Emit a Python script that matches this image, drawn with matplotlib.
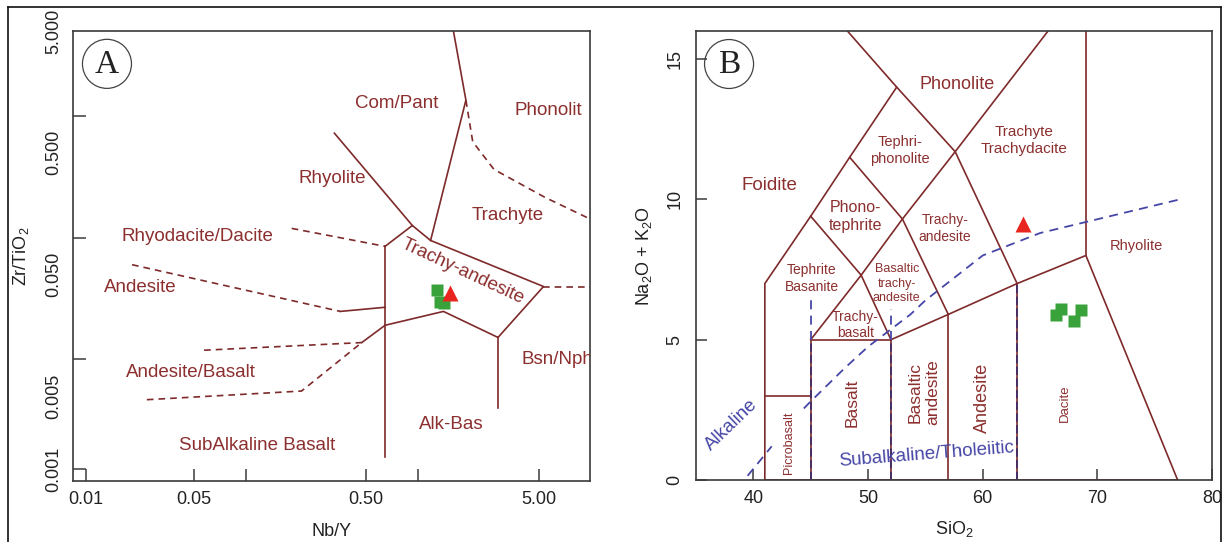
import matplotlib
matplotlib.use("Agg")
import matplotlib.pyplot as plt
from matplotlib.patches import Ellipse
from matplotlib.lines import Line2D

plt.rcParams['font.family'] = ['Liberation Sans', 'DejaVu Sans']
plt.rcParams['mathtext.default'] = 'regular'

LINE = '#7e2a2a'
TEXT = '#8c2f2f'
BLUE = '#4646a6'
NAVY = '#3b2a6a'
FRAME = '#3a3a3a'

# ---- (A) Zr/TiO2 vs Nb/Y (Winchester & Floyd) ----
a_solid = [
    [(1.60, 5.0), (1.89, 1.35), (1.18, 0.0949)],
    [(0.327, 0.723), (0.925, 0.126)],
    [(0.643, 0.0849), (0.925, 0.126), (1.18, 0.0949), (5.32, 0.0397),
     (2.90, 0.01514), (1.40, 0.02478), (0.643, 0.01906)],
    [(0.643, 0.0849), (0.643, 0.00158)],
    [(0.354, 0.02478), (0.643, 0.0268)],
    [(0.643, 0.01906), (0.471, 0.01374)],
    [(2.90, 0.01514), (2.90, 0.00395)],
]
a_dashed = [
    [(1.89, 1.35), (2.07, 0.614), (2.75, 0.364), (5.41, 0.215), (10.1, 0.1406)],
    [(5.32, 0.0397), (10.1, 0.0397)],
    [(0.185, 0.1193), (0.643, 0.0849)],
    [(0.022, 0.060), (0.354, 0.02478)],
    [(0.0575, 0.01189), (0.471, 0.01374)],
    [(0.0268, 0.00466), (0.211, 0.00549), (0.471, 0.01374)],
]
a_labels = [
    ("Com/Pant", 0.752, 1.26, 'center', 0),
    ("Phonolit", 3.62, 1.12, 'left', 0),
    ("Rhyolite", 0.316, 0.309, 'center', 0),
    ("Trachyte", 3.30, 0.153, 'center', 0),
    ("Rhyodacite/Dacite", 0.0524, 0.1014, 'center', 0),
    ("Trachy-andesite", 1.82, 0.0526, 'center', -25),
    ("Andesite", 0.0244, 0.0392, 'center', 0),
    ("Bsn/Nph", 3.96, 0.00991, 'left', 0),
    ("Andesite/Basalt", 0.048, 0.00787, 'center', 0),
    ("Alk-Bas", 1.556, 0.00294, 'center', 0),
    ("SubAlkaline Basalt", 0.116, 0.00195, 'center', 0),
]
a_sq_x = [1.285, 1.33, 1.42]
a_sq_y = [0.0372, 0.0298, 0.0292]
a_tri_x = [1.53]
a_tri_y = [0.0349]

# ---- (B) TAS diagram ----
b_lines = [
    [(41, 0), (41, 7), (45, 9.4), (48.4, 11.5), (52.5, 14), (48.2, 16)],
    [(41, 3), (45, 3)],
    [(45, 0), (45, 5), (52, 5)],
    [(52, 0), (52, 5), (57, 5.9), (63, 7), (69, 8), (77, 0)],
    [(57, 0), (57, 5.9)],
    [(63, 0), (63, 7)],
    [(69, 8), (69, 16)],
    [(45, 5), (49.4, 7.3), (53, 9.3), (57.6, 11.7), (65.7, 16)],
    [(45, 9.4), (49.4, 7.3), (52, 5)],
    [(48.4, 11.5), (53, 9.3), (57, 5.9)],
    [(52.5, 14), (57.6, 11.7), (63, 7)],
    [(41, 0), (77, 0)],
]
b_navy = [
    [(45, 0), (45, 5)],
    [(52, 0), (52, 5)],
    [(63, 0), (63, 7)],
]
b_blue_dashed = [
    [(39.5, 0.15), (40, 0.4), (41.6, 1.2)],
    [(44.4, 2.55), (45, 2.8), (48, 4.0), (50, 4.75), (53.7, 5.9), (55, 6.4),
     (60, 8.0), (65, 8.8), (77.2, 10.0)],
    [(45, 5), (45, 6.4)],
    [(52, 5), (52, 6.1)],
]
b_labels = [
    ("Phonolite", 57.8, 14.08, 13, 0),
    ("Tephri-\nphonolite", 52.8, 11.74, 10.5, 0),
    ("Trachyte\nTrachydacite", 63.6, 12.1, 11, 0),
    ("Foidite", 41.4, 10.5, 13.5, 0),
    ("Phono-\ntephrite", 48.9, 9.4, 11.5, 0),
    ("Trachy-\nandesite", 56.7, 8.97, 10, 0),
    ("Rhyolite", 73.4, 8.33, 10.5, 0),
    ("Tephrite\nBasanite", 45.1, 7.18, 10, 0),
    ("Basaltic\ntrachy-\nandesite", 52.5, 7.0, 9, 0),
    ("Trachy-\nbasalt", 48.9, 5.52, 10, 0),
    ("Basalt", 48.6, 2.75, 12.5, 90),
    ("Basaltic\nandesite", 54.9, 3.12, 12.5, 90),
    ("Andesite", 60.0, 2.93, 13, 90),
    ("Dacite", 67.2, 2.75, 9.5, 90),
    ("Picrobasalt", 43.1, 1.33, 9, 90),
]
b_sq_x = [66.8, 66.4, 68.6, 68.0]
b_sq_y = [6.09, 5.88, 6.06, 5.66]
b_tri_x = [63.5]
b_tri_y = [9.11]

fig = plt.figure(figsize=(12.28, 5.42), dpi=100)
ax1 = fig.add_axes([0.0594, 0.1125, 0.4211, 0.8303])
ax2 = fig.add_axes([0.5668, 0.1144, 0.4202, 0.8284])

for ax in (ax1, ax2):
    for sp in ax.spines.values():
        sp.set_color(FRAME)
        sp.set_linewidth(1.2)
    ax.tick_params(which='both', direction='in', colors=FRAME, labelcolor='#222222',
                   labelsize=13, width=1.1)

# panel A
ax1.set_xscale('log')
ax1.set_yscale('log')
ax1.set_xlim(0.01, 9.9)
ax1.set_ylim(0.001, 5)
for seg in a_solid:
    xs, ys = zip(*seg)
    ax1.plot(xs, ys, color=LINE, lw=1.2)
for seg in a_dashed:
    xs, ys = zip(*seg)
    ax1.plot(xs, ys, color=LINE, lw=1.2, ls=(0, (4, 3)))
for txt, x, y, ha, rot in a_labels:
    ax1.text(x, y, txt, color=TEXT, fontsize=13.5, ha=ha, va='center',
             rotation=rot, rotation_mode='anchor', clip_on=True)
ax1.plot(a_sq_x, a_sq_y, 's', color='#3aa23a', ms=8.5, mec='none')
ax1.plot(a_tri_x, a_tri_y, '^', color='#e8251e', ms=11, mec='none')

ax1.set_xticks([0.0119, 0.05, 0.1, 0.5, 1, 5],
               labels=['0.01', '0.05', '', '0.50', '', '5.00'])
ax1.set_xticks([], minor=True)
ax1.set_yticks([0.00125, 0.01, 0.1, 1], labels=['0.001', '', '', ''])
ax1.set_yticks([0.005, 0.05, 0.5, 5], labels=['0.005', '0.050', '0.500', '5.000'],
               minor=True)
ax1.tick_params(axis='both', which='major', length=9)
ax1.tick_params(axis='y', which='minor', length=0)
ax1.tick_params(axis='x', pad=7)
ax1.tick_params(axis='y', which='both', labelrotation=90, pad=8, labelsize=13)
for lab in ax1.get_yticklabels(which='both'):
    lab.set_va('center')
ax1.set_xlabel('Nb/Y', fontsize=13, labelpad=11, color='#222222')
ax1.set_ylabel('Zr/TiO$_2$', fontsize=13, labelpad=10, color='#222222')

ax1.add_patch(Ellipse((0.0658, 0.927), 0.0948, 0.109, transform=ax1.transAxes,
                      fill=False, ec='#444444', lw=0.9))
ax1.text(0.0658, 0.925, 'A', transform=ax1.transAxes, ha='center', va='center',
         fontsize=24, family='Liberation Serif', color='#222222')

# panel B
ax2.set_xlim(35, 80)
ax2.set_ylim(0, 16)
for seg in b_lines:
    xs, ys = zip(*seg)
    ax2.plot(xs, ys, color=LINE, lw=1.2)
for seg in b_navy:
    xs, ys = zip(*seg)
    ax2.plot(xs, ys, color=NAVY, lw=1.2, ls=(0, (5, 2)))
for seg in b_blue_dashed:
    xs, ys = zip(*seg)
    ax2.plot(xs, ys, color=BLUE, lw=1.3, ls=(0, (5, 3.5)))
for txt, x, y, fs, rot in b_labels:
    ax2.text(x, y, txt, color=TEXT, fontsize=fs, ha='center', va='center',
             rotation=rot, linespacing=1.25)
ax2.text(38.06, 1.96, 'Alkaline', color=BLUE, fontsize=13.5, ha='center',
         va='center', rotation=44)
ax2.text(55.05, 0.9, 'Subalkaline/Tholeiitic', color=BLUE, fontsize=13.5,
         ha='center', va='center', rotation=4.5)
ax2.plot(b_sq_x, b_sq_y, 's', color='#3aa23a', ms=8.5, mec='none')
ax2.plot(b_tri_x, b_tri_y, '^', color='#e8251e', ms=11, mec='none')

ax2.set_xticks([40, 50, 60, 70, 80])
ax2.set_yticks([0, 5, 10, 15])
ax2.tick_params(axis='both', length=8)
ax2.tick_params(axis='x', pad=7)
ax2.tick_params(axis='y', labelrotation=90, pad=9)
for lab in ax2.get_yticklabels():
    lab.set_va('center')
ax2.set_xlabel('SiO$_2$', fontsize=13, labelpad=9, color='#222222')
ax2.set_ylabel('Na$_2$O + K$_2$O', fontsize=13, labelpad=9, color='#222222')

ax2.add_patch(Ellipse((0.064, 0.9265), 0.095, 0.109, transform=ax2.transAxes,
                      fill=False, ec='#444444', lw=0.9))
ax2.text(0.064, 0.924, 'B', transform=ax2.transAxes, ha='center', va='center',
         fontsize=24, family='Liberation Serif', color='#222222')

# thin frame around the whole figure
fx0, fx1, fy1 = 8 / 1228, 1221 / 1228, 1 - 7 / 542
for xs, ys in [([fx0, fx0], [0, fy1]), ([fx0, fx1], [fy1, fy1]), ([fx1, fx1], [0, fy1])]:
    fig.add_artist(Line2D(xs, ys, color='#111111', lw=1.2, transform=fig.transFigure))

fig.savefig('out.png', dpi=100)
